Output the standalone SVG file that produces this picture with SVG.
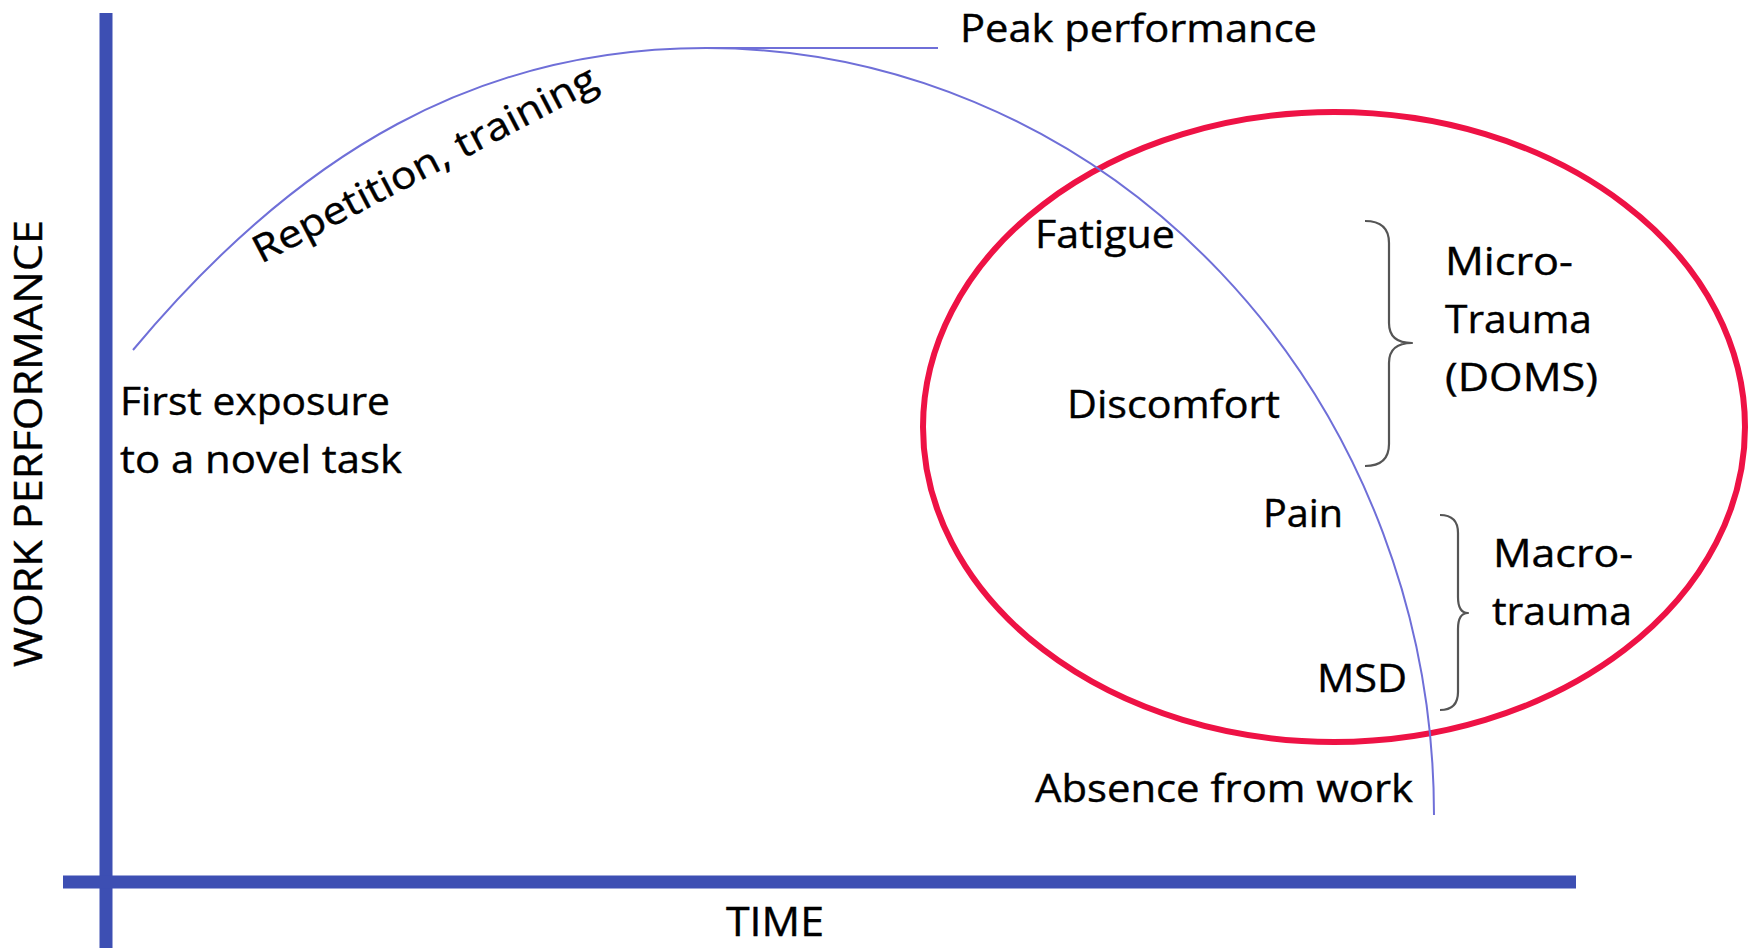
<svg xmlns="http://www.w3.org/2000/svg" width="1750" height="948" viewBox="0 0 1750 948">
<style>
.lbl{font-family:"Open Sans","Liberation Sans",sans-serif;font-size:38px;fill:#000;stroke:#000;stroke-width:0.4;}
.axis{stroke:#3d4fb3;stroke-width:13;fill:none;}
.curve{stroke:#6f6fd8;stroke-width:2;fill:none;}
.brace{stroke:#555;stroke-width:2.2;fill:none;stroke-linejoin:round;}
</style>
<rect width="1750" height="948" fill="#ffffff"/>
<g id="axes">
<line class="axis" x1="106" y1="13" x2="106" y2="948"/>
<line class="axis" x1="63" y1="882" x2="1576" y2="882"/>
<text class="lbl" transform="translate(42,667) rotate(-90)" textLength="447" lengthAdjust="spacingAndGlyphs">WORK PERFORMANCE</text>
<text class="lbl" x="726" y="936" style="font-size:41px" textLength="98" lengthAdjust="spacingAndGlyphs">TIME</text>
</g>
<g id="zone">
<ellipse cx="1334" cy="427" rx="411" ry="315" fill="none" stroke="#ee1245" stroke-width="6"/>
</g>
<g id="connectors">
<path class="curve" d="M133,350 C300,150 480,48 706,48 A728,767 0 0 1 1434,815"/>
<line class="curve" x1="706" y1="48" x2="938" y2="48"/>
</g>
<g id="braces">
<path class="brace" d="M1365,221 Q1389,221 1389,243 L1389,323 Q1389,343 1412,343 Q1389,343 1389,363 L1389,444 Q1389,466 1365,466"/>
<path class="brace" d="M1440,515 Q1458,515 1458,533 L1458,597 Q1458,613 1468,613 Q1458,613 1458,629 L1458,692 Q1458,710 1440,710"/>
</g>
<g id="label-peak"><text class="lbl" x="960" y="42" textLength="357" lengthAdjust="spacingAndGlyphs">Peak performance</text></g>
<g id="label-repetition"><text class="lbl" transform="translate(261,264) rotate(-27.5)" textLength="382" lengthAdjust="spacingAndGlyphs">Repetition, training</text></g>
<g id="label-first">
<text class="lbl" x="120" y="415" textLength="270" lengthAdjust="spacingAndGlyphs">First exposure</text>
<text class="lbl" x="120" y="473" textLength="282" lengthAdjust="spacingAndGlyphs">to a novel task</text>
</g>
<g id="label-fatigue"><text class="lbl" x="1035" y="248" textLength="140" lengthAdjust="spacingAndGlyphs">Fatigue</text></g>
<g id="label-discomfort"><text class="lbl" x="1067" y="418" textLength="213" lengthAdjust="spacingAndGlyphs">Discomfort</text></g>
<g id="label-pain"><text class="lbl" x="1263" y="527" textLength="80" lengthAdjust="spacingAndGlyphs">Pain</text></g>
<g id="label-msd"><text class="lbl" x="1317" y="692" textLength="90" lengthAdjust="spacingAndGlyphs">MSD</text></g>
<g id="label-absence"><text class="lbl" x="1035" y="802" textLength="378" lengthAdjust="spacingAndGlyphs">Absence from work</text></g>
<g id="label-micro">
<text class="lbl" x="1445" y="275" textLength="128" lengthAdjust="spacingAndGlyphs">Micro-</text>
<text class="lbl" x="1445" y="333" textLength="147" lengthAdjust="spacingAndGlyphs">Trauma</text>
<text class="lbl" x="1445" y="391" textLength="153" lengthAdjust="spacingAndGlyphs">(DOMS)</text>
</g>
<g id="label-macro">
<text class="lbl" x="1493" y="567" textLength="140" lengthAdjust="spacingAndGlyphs">Macro-</text>
<text class="lbl" x="1492" y="625" textLength="140" lengthAdjust="spacingAndGlyphs">trauma</text>
</g>
</svg>
